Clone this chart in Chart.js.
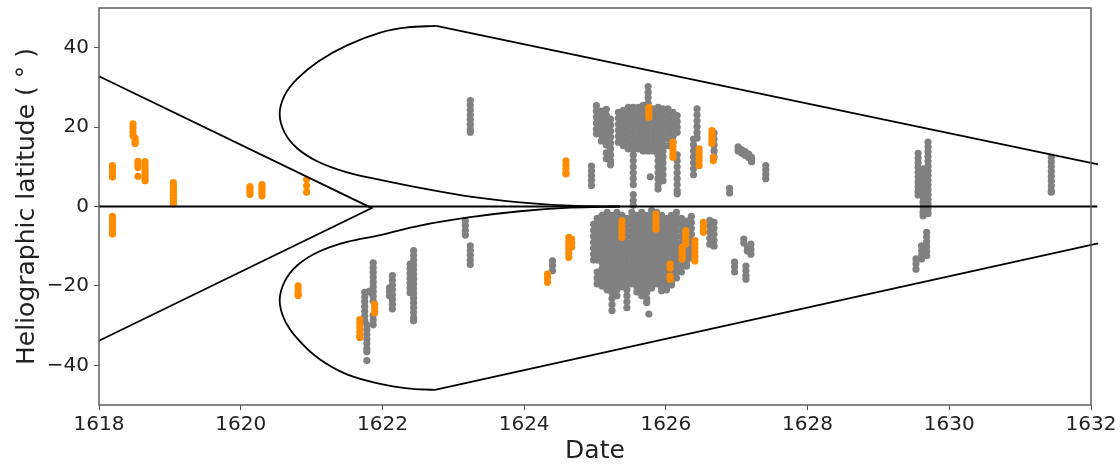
<!DOCTYPE html>
<html>
<head>
<meta charset="utf-8">
<script src="https://cdn.jsdelivr.net/npm/chart.js@4.4.1/dist/chart.umd.min.js"></script>
<style>
  body{margin:0;background:#fff;}
  canvas{display:block;}
</style>
</head>
<body>
<canvas id="grafico" width="1120" height="464"></canvas>
<script>
// ticks dos eixos
const ticksX = [1618, 1620, 1622, 1624, 1626, 1628, 1630, 1632]
const ticksY = [-40, -20, 0, 20, 40]

// manchas cinzas: uma data por coluna, latitudes de cada coluna
const datasCinza = [
  1621.75, 1621.78, 1621.81, 1621.84, 1621.87, 1622.10, 1622.14, 1622.39, 1622.44,
  1623.17, 1623.24, 1624.40, 1624.95,
  // grupo de cima
  1625.02, 1625.09, 1625.16, 1625.22, 1625.33, 1625.40, 1625.47, 1625.54, 1625.61,
  1625.68, 1625.75, 1625.78, 1625.82, 1625.89, 1625.96, 1626.03, 1626.10, 1626.16,
  1626.39, 1626.44, 1626.68, 1626.90, 1627.02, 1627.07, 1627.12, 1627.17, 1627.21, 1627.41,
  // grupo de baixo
  1624.98, 1625.03, 1625.10, 1625.17, 1625.24, 1625.31, 1625.38, 1625.45, 1625.52,
  1625.59, 1625.66, 1625.73, 1625.76, 1625.80, 1625.87, 1625.94, 1626.01, 1626.08,
  1626.15, 1626.22, 1626.29, 1626.36, 1626.62, 1626.68,
  1626.97, 1627.10, 1627.15, 1627.20, 1627.13,
  // final
  1629.56, 1629.63, 1629.70, 1629.68, 1629.61, 1629.53, 1631.44
]
const latitudesCinza = [
  [-21.6, -22.8, -24, -25.2, -26.4, -27.6, -28.8],
  [-29.8, -31, -32.2, -33.4, -34.6, -35.8, -36.6, -38.8],
  [-21.4],
  [-21.7],
  [-14.2, -15.4, -16.6, -17.8, -19, -20.2, -21.4, -22.6, -23.8, -27.4, -28.6, -29.8],
  [-20.5, -21.5, -22.5],
  [-17.4, -18.6, -19.8, -21, -22.2, -23.4, -24.6, -25.8],
  [-14.5, -15.7, -16.9, -18.1, -19.3, -20.5, -21.7],
  [-11.1, -12.3, -13.5, -14.7, -15.9, -17.1, -18.3, -19.5, -20.7, -21.9, -23.1, -24.3, -25.5, -26.7, -28, -28.8],
  [-3.6, -4.8, -6, -7.2],
  [26.7, 25.5, 24.3, 23.1, 21.9, 20.7, 19.5, 18.7, -9.9, -11.1, -12.3, -13.5, -14.6],
  [-13.7, -14.9, -16.2],
  [10.2, 9, 7.8, 6.6, 5.3],

  [25.4, 24, 22.5, 21, 19.5, 18.3],
  [24, 22.5, 21, 19.5, 18, 16.5],
  [24.5, 23, 21.5, 20, 18.5, 17, 15.5, 13.5, 12],
  [22, 20.5, 19, 17.5, 16, 14.5, 13, 11.5, 10.5],
  [23.7, 22.2, 20.7, 19.2, 17.7, 16.2],
  [24.2, 22.7, 21.2, 19.7, 18.2, 16.7, 15.3],
  [25, 23.5, 22, 20.5, 19, 17.5, 16, 14.5],
  [25, 23.5, 22, 20.5, 19, 17.5, 16, 14.5, 13, 11.5, 10, 8.5, 7, 5.5, 3, 1.5, 0.3],
  [25, 23.5, 22, 20.5, 19, 17.5, 16, 14.5],
  [25.5, 24, 22.5, 21, 19.5, 18, 16.5, 15, 14],
  [30.2, 28.8, 27.4, 26, 24.5, 23, 21.5, 20, 18.5, 17, 15.5, 14],
  [7.5],
  [24.6, 23, 21.5, 20, 18.5, 17, 15.5, 14],
  [25, 23.5, 22, 20.5, 19, 17.5, 16, 14.5, 13, 11.5, 10, 8.5, 7, 5.5, 4.4],
  [24.6, 23, 21.5, 20, 18.5, 17, 15.5, 14, 12.5, 11, 9.5, 8, 6.5],
  [24.6, 23, 21.5, 20, 18.5, 17, 15.3],
  [23.7, 22.2, 20.7, 19.2, 17.7, 16.2],
  [22.9, 21.4, 20, 18.7, 13, 11.5, 10, 8.5, 7, 5.5, 4, 3.2],
  [17, 15.5, 14, 12.5, 11, 9.5, 8],
  [24.6, 23.1, 21.6, 20.1, 18.6, 17.2],
  [18.5, 17, 15.5, 14, 12.5],
  [4.6, 3.4],
  [15, 14],
  [14.3, 13.4],
  [13.8, 12.9],
  [13.2, 12.3],
  [12.4, 11.3],
  [10.3, 9.2, 8.1, 7],

  [-4.5, -6, -7.5, -9, -10.5, -12, -13.5],
  [-3, -4.5, -6, -7.5, -9, -10.5, -12, -13.5, -16.5, -18, -19.5],
  [-2.2, -3.7, -5.2, -6.7, -8.2, -9.7, -11.2, -12.7, -14.2, -15.7, -17.2, -18.7, -20],
  [-1.5, -3, -4.5, -6, -7.5, -9, -10.5, -12, -13.5, -15, -16.5, -18, -19.5, -21],
  [-2.2, -3.7, -5.2, -6.7, -8.2, -9.7, -11.2, -12.7, -14.2, -15.7, -17.2, -18.7, -20.2, -21.7, -23.2, -24.7, -26.2],
  [-1.5, -3, -4.5, -6, -7.5, -9, -10.5, -12, -13.5, -15, -16.5, -18, -19.5, -21, -22.5],
  [-2.2, -3.7, -5.2, -6.7, -8.2, -9.7, -11.2, -12.7, -14.2, -15.7, -17.2, -18.7, -20.2],
  [-3, -4.5, -6, -7.5, -9, -10.5, -12, -13.5, -15, -16.5, -18, -19.5, -21, -22.5, -24, -25.5],
  [-1.5, -3, -4.5, -6, -7.5, -9, -10.5, -12, -13.5, -15, -16.5, -18, -19.5],
  [-2.2, -3.7, -5.2, -6.7, -8.2, -9.7, -11.2, -12.7, -14.2, -15.7, -17.2, -18.7, -20.2, -21.5],
  [-1.5, -3, -4.5, -6, -7.5, -9, -10.5, -12, -13.5, -15, -16.5, -18, -19.5, -21, -22.5],
  [-2.2, -3.7, -5.2, -6.7, -8.2, -9.7, -11.2, -12.7, -14.2, -15.7, -17.2, -18.7, -20.2, -21.7, -23.2, -24.2],
  [-27.1],
  [-1, -2.5, -4, -5.5, -7, -8.5, -10, -11.5, -13, -14.5, -16, -17.5, -19, -20.5],
  [-1.5, -3, -4.5, -6, -7.5, -9, -10.5, -12, -13.5, -15, -16.5, -18, -19.5],
  [-2.2, -3.7, -5.2, -6.7, -8.2, -9.7, -11.2, -12.7, -14.2, -15.7, -17.2, -18.7, -20.2, -21.2],
  [-3, -4.5, -6, -7.5, -9, -10.5, -12, -13.5, -15, -16.5, -18, -19.5, -21],
  [-2.2, -3.7, -5.2, -6.7, -8.2, -9.7, -11.2, -12.7, -14.2, -15.7, -17.2, -18.7, -19.8],
  [-1.5, -3, -4.5, -6, -7.5, -9, -10.5, -12, -13.5, -15, -16.5, -18],
  [-3, -4.5, -6, -7.5, -9, -10.5, -12, -13.5, -15, -16.5],
  [-3.7, -5.2, -6.7, -8.2, -9.7, -11.2, -12.7, -14.2, -15],
  [-2.5, -4, -5.5, -7, -8.5, -10, -11.5, -13],
  [-3.5, -5, -6.5, -8, -9.5],
  [-4, -5.5, -7, -8.5, -10],
  [-14, -15.2, -16.5],
  [-8.2, -9.2],
  [-10.2, -11.2],
  [-9.5, -10.8, -12],
  [-15, -16.2, -17.4, -18.3],

  [13.4, 12.2, 11, 9.8, 8.6, 7.4, 6.2, 5, 3.8, 2.9],
  [9.5, 8.3, 7.1, 5.9, 4.7, 3.5, 2.3, 1.1, -0.1, -1.4, -2.3],
  [16.2, 15, 13.8, 12.6, 11.4, 10.2, 9, 7.8, 6.6, 5.4, 4.2, 3, 1.8, 0.6, -0.6, -1.8],
  [-6.5, -7.7, -8.9, -10.1, -11.3, -12.4],
  [-9.9, -11.1, -12.3, -13.2],
  [-13.2, -14.4, -15.8],
  [12.4, 11.2, 10, 8.8, 7.6, 6.4, 5.2, 4, 3.6]
]

// manchas laranjas
const datasLaranja = [
  1618.19, 1618.19, 1618.48, 1618.51, 1618.55, 1618.65, 1619.05, 1620.13, 1620.30, 1620.93,
  1620.81, 1621.68, 1621.89, 1624.59, 1624.63, 1624.67, 1624.33,
  1625.76, 1626.10, 1626.47, 1626.65, 1626.67,
  1625.38, 1625.86, 1626.28, 1626.23, 1626.41, 1626.53, 1626.06
]
const latitudesLaranja = [
  [10.3, 9.5, 8.7, 7.9, 7.4],
  [-2.5, -3.3, -4.1, -4.9, -5.7, -6.5, -6.9],
  [20.8, 19.8, 18.8, 17.8],
  [17.2, 16.5, 15.9],
  [11.4, 10.6, 9.8, 7.6],
  [11.3, 10.5, 9.7, 8.9, 8.1, 7.3, 6.5],
  [6, 5.2, 4.4, 3.6, 2.8, 2, 1.2, 0.6],
  [5, 4.3, 3.6, 3],
  [5.5, 4.8, 4, 3.3, 2.7],
  [6.8, 5.2, 3.6],
  [-20, -21, -22, -22.4],
  [-28.5, -29.5, -30.5, -31.5, -32.5, -33],
  [-24.6, -25.5, -26.4, -26.8],
  [11.5, 10.5, 9.5, 8.5, 8.2],
  [-7.8, -8.8, -9.8, -10.8, -11.8, -12.8],
  [-8.2, -9.2, -10.2],
  [-17, -18, -19.1],
  [25, 24.2, 23.4, 22.5],
  [16.2, 15.2, 14.2, 13.2, 12.4],
  [14.5, 13.5, 12.5, 11.5, 10.3],
  [19.1, 18.2, 17.3, 16.4, 15.8],
  [12.4, 11.5],
  [-3.6, -4.6, -5.6, -6.6, -7.8],
  [-1.9, -2.9, -3.9, -4.9, -5.7],
  [-6.1, -7.2, -8.3, -9.5],
  [-10.3, -11.3, -12.3, -13.2],
  [-8.6, -9.6, -10.6, -11.6, -12.6, -13.7],
  [-4, -5, -6, -6.5],
  [-14.5, -15.5, -17.5, -18.3]
]

// contornos pretos
const cunhaDatas = [1618, 1621.85, 1618]
const cunhaLats = [32.8, -0.4, -33.8]
const zeroDatas = [1618, 1632.09]
const zeroLats = [0, 0]
const loboSupDatas = [1625.35, 1624.65, 1623.94, 1623.24, 1622.53, 1621.97, 1621.5, 1621.1, 1620.8, 1620.62,
  1620.55, 1620.62, 1620.8, 1621.1, 1621.5, 1621.97, 1622.35, 1622.76]
const loboSupLats = [0, 0.2, 1.05, 2.5, 4.7, 6.7, 8.6, 11.2, 14.6, 18.6, 23.3, 28, 32.2, 36.6, 40.6, 43.8, 45.1, 45.5]
const retaSupDatas = [1622.76, 1632.1]
const retaSupLats = [45.5, 10.6]
const loboInfDatas = [1625.35, 1624.65, 1623.94, 1623.24, 1622.53, 1621.97, 1621.5, 1621.1, 1620.8, 1620.62,
  1620.55, 1620.62, 1620.8, 1621.1, 1621.5, 1621.97, 1622.35, 1622.74]
const loboInfLats = [0, -0.3, -1.2, -2.7, -4.8, -7.2, -8.9, -11.4, -14.8, -18.9, -23.7, -28.6, -33.3, -38.3, -42.3, -44.7, -45.8, -46.2]
const retaInfDatas = [1622.74, 1632.1]
const retaInfLats = [-46.2, -9.3]

const pontos = (datas, lats) => datas.flatMap((d, i) => lats[i].map(v => ({x: d, y: v})))
const pares = (datas, lats) => datas.map((d, i) => ({x: d, y: lats[i]}))

const linha = (datas, lats, curva) => ({
  data: pares(datas, lats),
  showLine: true,
  borderColor: '#000',
  borderWidth: 1.8,
  pointRadius: 0,
  tension: curva ? 0.35 : 0,
  clip: false,
  order: 0
})

const moldura = {
  id: 'moldura',
  afterDraw(chart){
    const {ctx, chartArea: a} = chart
    ctx.save()
    ctx.strokeStyle = '#555'
    ctx.lineWidth = 1.4
    ctx.strokeRect(a.left, a.top, a.right - a.left, a.bottom - a.top)
    ctx.restore()
  }
}

const menos = v => String(v).replace('-', '\u2212')

// tira o espaço extra que o chart.js reserva pras labels das pontas
const semSobra = (axis, tam) => {
  if (axis.isHorizontal()) axis.height = tam
  else axis.width = tam
  axis.paddingTop = 0
  axis.paddingBottom = 0
  axis.paddingLeft = 0
  axis.paddingRight = 0
}

Chart.defaults.font.family = 'DejaVu Sans'
Chart.defaults.color = '#222'

const ctx = document.getElementById('grafico').getContext('2d')
new Chart(ctx, {
  type: 'scatter',
  data: {
    datasets: [
      linha(zeroDatas, zeroLats, false),
      linha(cunhaDatas, cunhaLats, false),
      linha(loboSupDatas, loboSupLats, true),
      linha(retaSupDatas, retaSupLats, false),
      linha(loboInfDatas, loboInfLats, true),
      linha(retaInfDatas, retaInfLats, false),
      {
        data: pontos(datasLaranja, latitudesLaranja),
        backgroundColor: '#ff8c00',
        borderWidth: 0,
        pointRadius: 3.6,
        order: 1
      },
      {
        data: pontos(datasCinza, latitudesCinza),
        backgroundColor: '#808080',
        borderWidth: 0,
        pointRadius: 3.6,
        order: 2
      }
    ]
  },
  options: {
    responsive: false,
    animation: false,
    devicePixelRatio: 1,
    layout: {padding: {top: 8, right: 29, left: 0, bottom: 0}},
    plugins: {legend: {display: false}, tooltip: {enabled: false}},
    scales: {
      x: {
        type: 'linear',
        min: 1618,
        max: 1632,
        afterBuildTicks: axis => { axis.ticks = ticksX.map(v => ({value: v})) },
        afterFit: axis => semSobra(axis, 59),
        grid: {drawOnChartArea: false, tickLength: 5, tickColor: '#555'},
        border: {display: false},
        ticks: {font: {size: 20}, padding: 3, maxRotation: 0, callback: v => String(v)},
        title: {display: true, text: 'Date', font: {size: 25, lineHeight: 1}, padding: {top: 0, bottom: 0}}
      },
      y: {
        min: -50,
        max: 50,
        afterBuildTicks: axis => { axis.ticks = ticksY.map(v => ({value: v})) },
        afterFit: axis => semSobra(axis, 99),
        grid: {drawOnChartArea: false, tickLength: 5, tickColor: '#555'},
        border: {display: false},
        ticks: {font: {size: 20}, padding: 5, callback: v => menos(v)},
        title: {display: true, text: 'Heliographic latitude ( \u00b0 )', font: {size: 25, lineHeight: 1}, padding: {top: 15, bottom: 0}}
      }
    }
  },
  plugins: [moldura]
})
</script>
</body>
</html>
